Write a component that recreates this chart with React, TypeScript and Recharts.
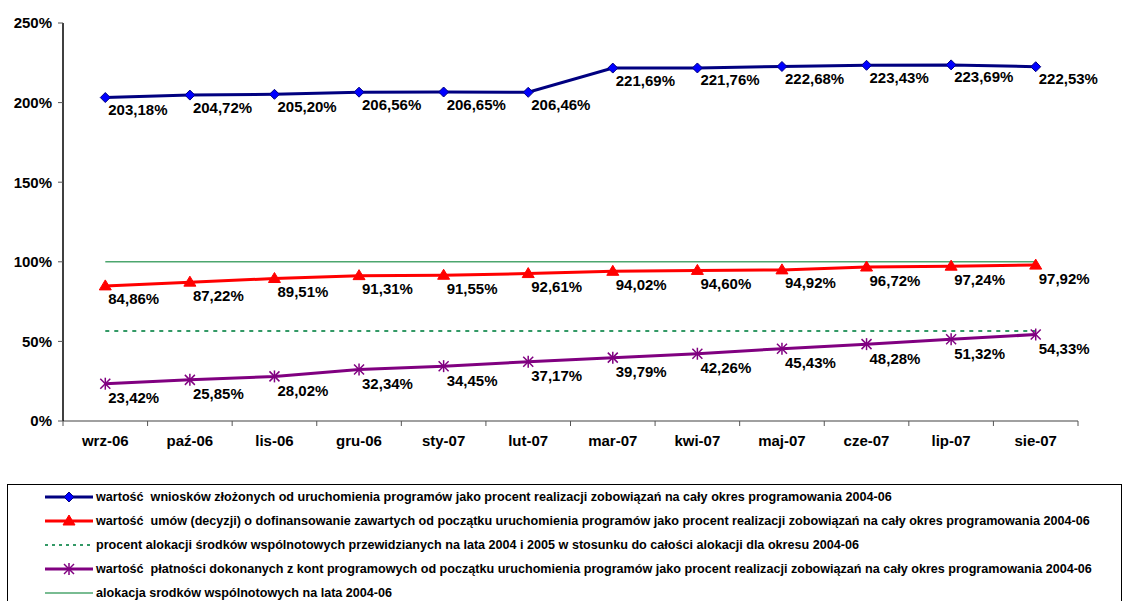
import { ComposedChart, Line, XAxis, YAxis, LabelList } from 'recharts';

const months = ['wrz-06', 'paź-06', 'lis-06', 'gru-06', 'sty-07', 'lut-07', 'mar-07', 'kwi-07', 'maj-07', 'cze-07', 'lip-07', 'sie-07'];
const wnioski = [203.18, 204.72, 205.2, 206.56, 206.65, 206.46, 221.69, 221.76, 222.68, 223.43, 223.69, 222.53];
const umowy = [84.86, 87.22, 89.51, 91.31, 91.55, 92.61, 94.02, 94.6, 94.92, 96.72, 97.24, 97.92];
const procentAlokacji = [56.6, 56.6, 56.6, 56.6, 56.6, 56.6, 56.6, 56.6, 56.6, 56.6, 56.6, 56.6];
const platnosci = [23.42, 25.85, 28.02, 32.34, 34.45, 37.17, 39.79, 42.26, 45.43, 48.28, 51.32, 54.33];
const alokacja = [100, 100, 100, 100, 100, 100, 100, 100, 100, 100, 100, 100];
const yTicks = [0, 50, 100, 150, 200, 250];

const legendLabels = [
  'wartość  wniosków złożonych od uruchomienia programów jako procent realizacji zobowiązań na cały okres programowania 2004-06',
  'wartość  umów (decyzji) o dofinansowanie zawartych od początku uruchomienia programów jako procent realizacji zobowiązań na cały okres programowania 2004-06',
  'procent alokacji środków wspólnotowych przewidzianych na lata 2004 i 2005 w stosunku do całości alokacji dla okresu 2004-06',
  'wartość  płatności dokonanych z kont programowych od początku uruchomienia programów jako procent realizacji zobowiązań na cały okres programowania 2004-06',
  'alokacja srodków wspólnotowych na lata 2004-06',
];

const data = months.map((m, i) => ({
  month: m,
  wnioski: wnioski[i],
  umowy: umowy[i],
  procent: procentAlokacji[i],
  platnosci: platnosci[i],
  alokacja: alokacja[i],
}));

const FONT = '"Liberation Sans", Arial, sans-serif';
const fmt = (v: number) => v.toFixed(2).replace('.', ',') + '%';

const Diamond = ({ cx, cy }: any) => (
  <polygon points={`${cx},${cy - 5} ${cx + 5},${cy} ${cx},${cy + 5} ${cx - 5},${cy}`} fill="#0000FF" stroke="#000080" strokeWidth={1} />
);

const Triangle = ({ cx, cy }: any) => (
  <polygon points={`${cx},${cy - 6} ${cx + 6},${cy + 4} ${cx - 6},${cy + 4}`} fill="#FF0000" stroke="#FF0000" strokeWidth={1} />
);

const Star = ({ cx, cy }: any) => (
  <g stroke="#800080" strokeWidth={1.5}>
    <line x1={cx - 5} y1={cy - 5} x2={cx + 5} y2={cy + 5} />
    <line x1={cx - 5} y1={cy + 5} x2={cx + 5} y2={cy - 5} />
    <line x1={cx} y1={cy - 6} x2={cx} y2={cy + 6} />
  </g>
);

const makeLabel = (dy: number) => (props: any) => {
  const { x, y, value } = props;
  return (
    <text x={x + 3} y={y + dy} fontFamily={FONT} fontWeight="bold" fontSize={15} fill="#000" dominantBaseline="central">
      {fmt(value)}
    </text>
  );
};

const XTick = ({ x, y, payload, index }: any) => {
  const half = payload.offset || 0;
  return (
    <g>
      <line x1={x - half} y1={y} x2={x - half} y2={y + 5} stroke="#555" />
      {index === months.length - 1 && <line x1={x + half} y1={y} x2={x + half} y2={y + 5} stroke="#555" />}
      <text x={x} y={y + 19} textAnchor="middle" dominantBaseline="central" fontFamily={FONT} fontWeight="bold" fontSize={15} fill="#000">
        {payload.value}
      </text>
    </g>
  );
};

const LegendSymbol = ({ i }: { i: number }) => (
  <svg width={48} height={12} style={{ display: 'block', flex: 'none' }}>
    {i === 0 && (
      <>
        <line x1={0} y1={6} x2={48} y2={6} stroke="#000080" strokeWidth={3} />
        <Diamond cx={24} cy={6} />
      </>
    )}
    {i === 1 && (
      <>
        <line x1={0} y1={6} x2={48} y2={6} stroke="#FF0000" strokeWidth={3} />
        <Triangle cx={24} cy={6} />
      </>
    )}
    {i === 2 && <line x1={0} y1={6} x2={48} y2={6} stroke="#339966" strokeWidth={2} strokeDasharray="3 4" />}
    {i === 3 && (
      <>
        <line x1={0} y1={6} x2={48} y2={6} stroke="#800080" strokeWidth={3} />
        <Star cx={24} cy={6} />
      </>
    )}
    {i === 4 && <line x1={0} y1={6} x2={48} y2={6} stroke="#4CA66E" strokeWidth={1.5} />}
  </svg>
);

export default function App() {
  return (
    <div style={{ position: 'absolute', left: 0, top: 0, width: 1128, height: 601, background: '#fff', overflow: 'hidden' }}>
      <ComposedChart width={1128} height={480} data={data} margin={{ top: 23, right: 50, left: 0, bottom: 29 }}>
        <XAxis
          dataKey="month"
          scale="band"
          height={30}
          tickSize={0}
          tickMargin={0}
          tickLine={false}
          axisLine={{ stroke: '#808080', strokeWidth: 1.5 }}
          tick={<XTick />}
          interval={0}
        />
        <YAxis
          width={63}
          domain={[0, 250]}
          ticks={yTicks}
          tickFormatter={(v) => `${v}%`}
          axisLine={{ stroke: '#000', strokeWidth: 1.5 }}
          tickLine={{ stroke: '#555' }}
          tickSize={5}
          tickMargin={6}
          tick={{ fontFamily: FONT, fontWeight: 'bold', fontSize: 15, fill: '#000' }}
        />
        <Line dataKey="alokacja" stroke="#4CA66E" strokeWidth={1.5} dot={false} isAnimationActive={false} />
        <Line dataKey="procent" stroke="#339966" strokeWidth={2} strokeDasharray="4 5" dot={false} isAnimationActive={false} />
        <Line dataKey="platnosci" stroke="#800080" strokeWidth={3} dot={<Star />} isAnimationActive={false}>
          <LabelList dataKey="platnosci" content={makeLabel(14)} />
        </Line>
        <Line dataKey="umowy" stroke="#FF0000" strokeWidth={3} dot={<Triangle />} isAnimationActive={false}>
          <LabelList dataKey="umowy" content={makeLabel(13)} />
        </Line>
        <Line dataKey="wnioski" stroke="#000080" strokeWidth={3} dot={<Diamond />} isAnimationActive={false}>
          <LabelList dataKey="wnioski" content={makeLabel(12)} />
        </Line>
      </ComposedChart>
      <div
        style={{
          position: 'absolute',
          left: 7,
          top: 484,
          width: 1115,
          height: 140,
          border: '1px solid #000',
          boxSizing: 'border-box',
          fontFamily: FONT,
          fontWeight: 'bold',
          fontSize: 12.6,
          color: '#000',
        }}
      >
        {legendLabels.map((label, i) => (
          <div key={i} style={{ display: 'flex', alignItems: 'center', height: 24, paddingLeft: 37 }}>
            <LegendSymbol i={i} />
            <span style={{ marginLeft: 3, whiteSpace: 'pre' }}>{label}</span>
          </div>
        ))}
      </div>
    </div>
  );
}
